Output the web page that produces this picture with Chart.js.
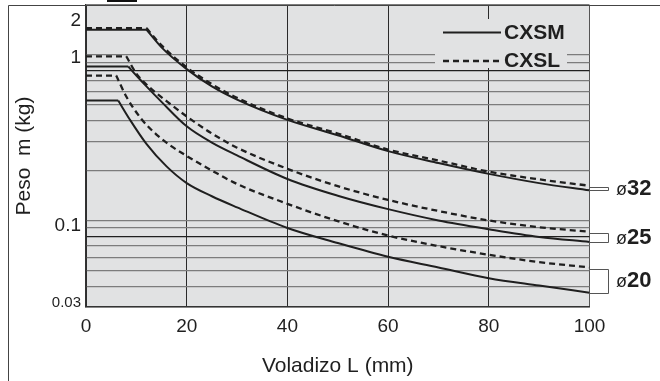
<!DOCTYPE html>
<html><head><meta charset="utf-8">
<script src="https://cdn.jsdelivr.net/npm/chart.js@4"></script>
<style>html,body{margin:0;padding:0;background:#fff}canvas{display:block}</style>
</head><body>
<canvas id="c" width="660" height="381"></canvas>
<script>
// ---- data ----
const xTicks = [0, 20, 40, 60, 80, 100];
const yGridValues = [0.03,0.04,0.05,0.06,0.07,0.08,0.09,0.1,0.2,0.3,0.4,0.5,0.6,0.7,0.8,0.9,1,2];
const yTickLabels = ['2', '1', '0.1', '0.03'];
const seriesNames = ['CXSM', 'CXSL'];
const boreLabels = ['32', '25', '20'];

// index 1 of every L array is the end of the flat (capped) part
const L_32 = [0, 12, 15, 20, 25, 30, 40, 50, 60, 70, 80, 90, 100];
const m_32_CXSM = [1.42, 1.42, 1.11, 0.82, 0.645, 0.537, 0.405, 0.327, 0.262, 0.222, 0.191, 0.168, 0.152];
const m_32_CXSL = [1.45, 1.45, 1.14, 0.84, 0.665, 0.55, 0.413, 0.335, 0.268, 0.23, 0.197, 0.177, 0.162];

const L_25_CXSM = [0, 8.4, 10, 12, 15, 20, 25, 30, 40, 50, 60, 70, 80, 90, 100];
const m_25_CXSM = [0.85, 0.85, 0.75, 0.645, 0.52, 0.37, 0.295, 0.247, 0.178, 0.141, 0.117, 0.1, 0.0885, 0.0795, 0.0742];
const L_25_CXSL = [0, 8, 10, 12.7, 16, 20, 25, 30, 40, 50, 60, 70, 80, 90, 100];
const m_25_CXSL = [0.98, 0.98, 0.77, 0.633, 0.525, 0.425, 0.335, 0.275, 0.205, 0.161, 0.133, 0.114, 0.1, 0.091, 0.0855];

const L_20_CXSM = [0, 6.4, 8.7, 12, 16, 20, 25, 30, 40, 50, 60, 70, 80, 90, 100];
const m_20_CXSM = [0.53, 0.53, 0.407, 0.29, 0.212, 0.168, 0.14, 0.12, 0.09, 0.073, 0.0603, 0.052, 0.0448, 0.0404, 0.0366];
const L_20_CXSL = [0, 6, 8, 11, 14, 17, 20, 25, 30, 40, 50, 60, 70, 80, 90, 100];
const m_20_CXSL = [0.75, 0.75, 0.56, 0.41, 0.33, 0.28, 0.245, 0.20, 0.166, 0.126, 0.099, 0.081, 0.070, 0.062, 0.056, 0.052];

// ---- styling ----
const INK = '#1f1f1f';
const PLOT_BG = '#e1e2e3';
const FONT = "'Liberation Sans', Arial, Helvetica, sans-serif";

function pts(L, m, from, to) {
  const out = [];
  for (let i = from; i < to; i++) out.push({ x: L[i], y: m[i] });
  return out;
}
// flat part and falling part as two pieces so the knee stays sharp
function curve(label, L, m, dashed) {
  const base = {
    borderColor: INK, borderWidth: dashed ? 2.3 : 2, borderDash: dashed ? [6, 4] : [],
    pointRadius: 0, fill: false
  };
  return [
    Object.assign({ label: label + ' (cap)', data: pts(L, m, 0, 2), tension: 0 }, base),
    Object.assign({ label: label, data: pts(L, m, 1, L.length), cubicInterpolationMode: 'monotone' }, base)
  ];
}

const curves = [
  { bore: boreLabels[0], sm: m_32_CXSM, sl: m_32_CXSL },
  { bore: boreLabels[1], sm: m_25_CXSM, sl: m_25_CXSL },
  { bore: boreLabels[2], sm: m_20_CXSM, sl: m_20_CXSL }
];

const bgPlugin = {
  id: 'bg',
  beforeDraw(chart) {
    const { ctx, chartArea: a } = chart;
    ctx.save();
    ctx.fillStyle = '#fff';
    ctx.fillRect(0, 0, chart.width, chart.height);
    ctx.fillStyle = PLOT_BG;
    ctx.fillRect(a.left, a.top, a.right - a.left, a.bottom - a.top);
    ctx.restore();
  }
};

const decoPlugin = {
  id: 'deco',
  afterDraw(chart) {
    const { ctx, chartArea: a, scales } = chart;
    const ys = scales.y;
    ctx.save();
    // outer frame
    ctx.strokeStyle = '#444';
    ctx.lineWidth = 1;
    ctx.beginPath();
    ctx.moveTo(8.5, chart.height);
    ctx.lineTo(8.5, 5.5);
    ctx.lineTo(chart.width, 5.5);
    ctx.stroke();
    ctx.fillStyle = '#111';
    ctx.fillRect(107, 0, 30, 2);

    // y tick labels
    const offs = { '2': 16, '1': 2.5, '0.1': 5.3, '0.03': -4 };
    ctx.fillStyle = INK;
    ctx.textAlign = 'right';
    ctx.textBaseline = 'middle';
    yTickLabels.forEach(t => {
      ctx.font = t === '0.03' ? "15px 'Liberation Sans Narrow', " + FONT : '19px ' + FONT;
      ctx.fillText(t, 81, ys.getPixelForValue(parseFloat(t)) + offs[t]);
    });

    // legend (inside plot)
    ctx.fillStyle = PLOT_BG;
    ctx.fillRect(435, 19, 132, 49);
    ctx.strokeStyle = INK;
    ctx.lineWidth = 2;
    ctx.setLineDash([]);
    ctx.beginPath(); ctx.moveTo(443, 32.5); ctx.lineTo(501, 32.5); ctx.stroke();
    ctx.lineWidth = 2.3;
    ctx.setLineDash([6, 4]);
    ctx.beginPath(); ctx.moveTo(443, 61); ctx.lineTo(501, 61); ctx.stroke();
    ctx.setLineDash([]);
    ctx.fillStyle = INK;
    ctx.textAlign = 'left';
    ctx.font = 'bold 21px ' + FONT;
    ctx.fillText(seriesNames[0], 504, 33);
    ctx.fillText(seriesNames[1], 504, 61.5);

    // bore brackets and labels
    ctx.strokeStyle = '#555';
    ctx.lineWidth = 1;
    curves.forEach(c => {
      const yL = ys.getPixelForValue(c.sl[c.sl.length - 1]);
      const yM = ys.getPixelForValue(c.sm[c.sm.length - 1]);
      const top = Math.min(yL + 1.5, yM - 2.5);
      const bot = yM;
      const xr = 608.5;
      ctx.beginPath();
      ctx.moveTo(a.right, Math.round(top) + 0.5);
      ctx.lineTo(xr, Math.round(top) + 0.5);
      ctx.lineTo(xr, Math.round(bot) + 0.5);
      ctx.lineTo(a.right, Math.round(bot) + 0.5);
      ctx.stroke();
      const cy = (top + bot) / 2 + 0.5;
      ctx.textBaseline = 'middle';
      ctx.font = '18px ' + FONT;
      ctx.fillText('\u00f8', 616, cy + 1);
      ctx.font = 'bold 22px ' + FONT;
      ctx.fillText(c.bore, 627, cy);
    });
    ctx.restore();
  }
};

new Chart(document.getElementById('c'), {
  type: 'line',
  data: {
    datasets: [].concat(
      curve('ø32 CXSM', L_32, m_32_CXSM, false),
      curve('ø32 CXSL', L_32, m_32_CXSL, true),
      curve('ø25 CXSM', L_25_CXSM, m_25_CXSM, false),
      curve('ø25 CXSL', L_25_CXSL, m_25_CXSL, true),
      curve('ø20 CXSM', L_20_CXSM, m_20_CXSM, false),
      curve('ø20 CXSL', L_20_CXSL, m_20_CXSL, true)
    )
  },
  options: {
    responsive: false,
    devicePixelRatio: 1,
    animation: false,
    layout: { padding: { top: 5, right: 70.5, left: 0, bottom: 0 } },
    plugins: { legend: { display: false }, tooltip: { enabled: false } },
    scales: {
      x: {
        type: 'linear', min: 0, max: 100,
        afterBuildTicks: s => { s.ticks = xTicks.map(v => ({ value: v })); },
        afterFit: s => { s.height = 74; },
        ticks: { color: INK, font: { family: FONT, size: 19 }, padding: 8 },
        grid: {
          drawTicks: false,
          color: c => (c.tick && c.tick.value === 100) ? '#555' : '#2a2a2a',
          lineWidth: 1
        },
        border: { display: true, color: '#333', width: 1.5 },
        title: { display: true, text: 'Voladizo L (mm)', color: INK,
                 font: { family: FONT, size: 21 }, padding: { top: 0, bottom: 2.6 } }
      },
      y: {
        type: 'logarithmic', min: 0.03, max: 2,
        afterBuildTicks: s => { s.ticks = yGridValues.map(v => ({ value: v })); },
        afterFit: s => { s.width = 86; },
        ticks: { display: false },
        grid: {
          drawTicks: false,
          color: c => {
            const v = c.tick ? c.tick.value : 0;
            if (Math.abs(v - 0.8) < 1e-9 || Math.abs(v - 0.08) < 1e-9) return '#202020';
            return '#7c7c7c';
          },
          lineWidth: 1.3
        },
        border: { display: true, color: '#333', width: 1.5 },
        title: { display: true, text: 'Peso  m (kg)', color: INK,
                 font: { family: FONT, size: 21 }, padding: { top: 11.4, bottom: 0 } }
      }
    }
  },
  plugins: [bgPlugin, decoPlugin]
});
</script>
</body></html>
